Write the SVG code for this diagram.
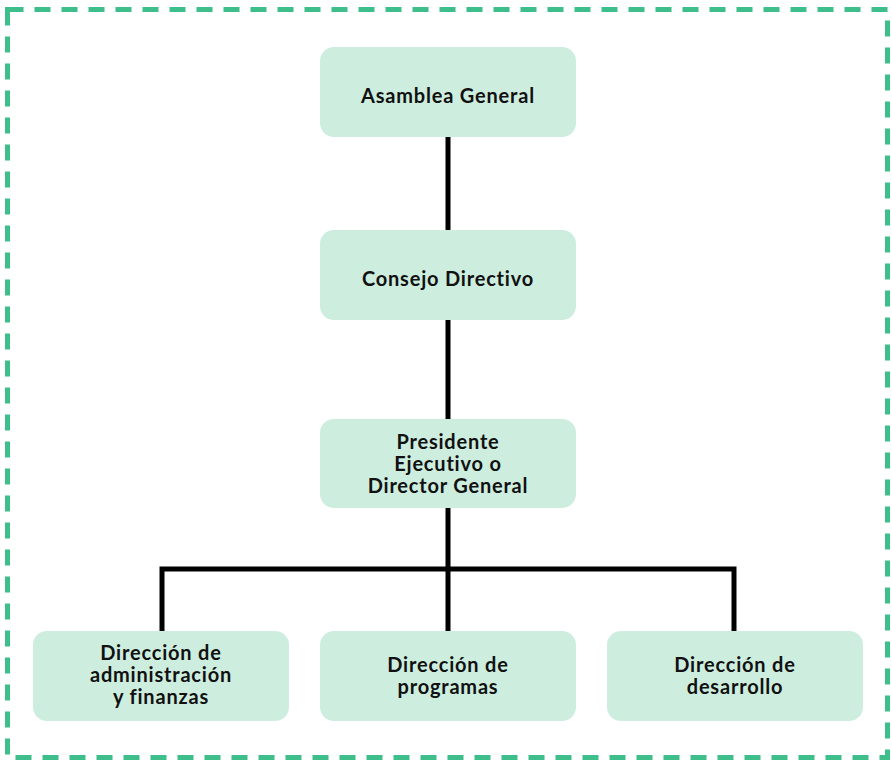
<svg xmlns="http://www.w3.org/2000/svg" width="892" height="760" viewBox="0 0 892 760">
<style>
.node rect{fill:#CDEEDF;}
.node text{font-family:Lato,"Open Sans",sans-serif;font-weight:bold;font-size:20px;letter-spacing:0.8px;fill:#111;text-anchor:middle;}
.conn{stroke:#000;stroke-width:5;fill:none;}
</style>
<rect x="7.5" y="9.5" width="880" height="748" fill="none" stroke="#3DBE8A" stroke-width="5" stroke-dasharray="16 11"/>
<g id="connectors">
<path class="conn" d="M448 137V230M448 320V419M448 508V631M162 631V569H734V631"/>
</g>
<g id="n1" class="node"><rect x="320" y="47" width="256" height="90" rx="14"/><text x="448" y="103">Asamblea General</text></g>
<g id="n2" class="node"><rect x="320" y="230" width="256" height="90" rx="14"/><text x="448" y="286">Consejo Directivo</text></g>
<g id="n3" class="node"><rect x="320" y="419" width="256" height="89" rx="14"/><text x="448" y="449">Presidente</text><text x="448" y="471">Ejecutivo o</text><text x="448" y="493">Director General</text></g>
<g id="n4" class="node"><rect x="33" y="631" width="256" height="90" rx="14"/><text x="161" y="660">Dirección de</text><text x="161" y="682">administración</text><text x="161" y="704">y finanzas</text></g>
<g id="n5" class="node"><rect x="320" y="631" width="256" height="90" rx="14"/><text x="448" y="672">Dirección de</text><text x="448" y="694">programas</text></g>
<g id="n6" class="node"><rect x="607" y="631" width="256" height="90" rx="14"/><text x="735" y="672">Dirección de</text><text x="735" y="694">desarrollo</text></g>
</svg>
